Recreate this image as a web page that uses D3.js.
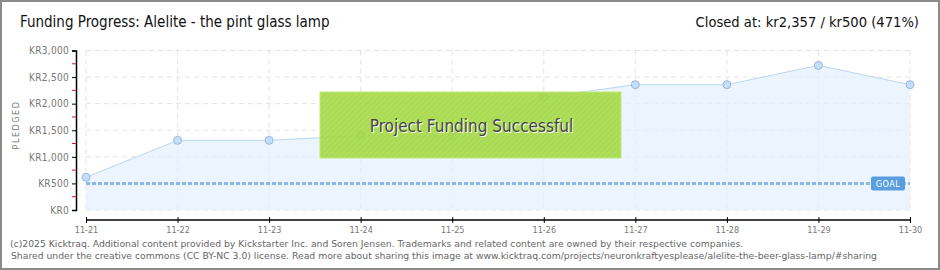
<!DOCTYPE html>
<html>
<head>
<meta charset="utf-8">
<script src="https://cdn.jsdelivr.net/npm/d3@7"></script>
<style>
  body { margin: 0; background: #fff; }
  svg { display: block; }
</style>
</head>
<body>
<svg id="chart" width="940" height="270"></svg>
<script>
// data
var dates = ["11-21", "11-22", "11-23", "11-24", "11-25", "11-26", "11-27", "11-28", "11-29", "11-30"];
var pledged = [615, 1310, 1310, 1400, 1390, 2120, 2357, 2357, 2720, 2357];
var goal = 500;
var yTicks = [0, 500, 1000, 1500, 2000, 2500, 3000];

var svg = d3.select("#chart"),
    W = +svg.attr("width"),
    H = +svg.attr("height");

var x = d3.scalePoint().domain(dates).range([86, 910]);
var y = d3.scaleLinear().domain([0, 3000]).range([210, 50.5]);

var condensed = "'DejaVu Sans Condensed', 'DejaVu Sans', sans-serif";

// frame
svg.append("rect")
    .attr("x", 1).attr("y", 1).attr("width", W - 2).attr("height", H - 2)
    .attr("fill", "#fff").attr("stroke", "#8a8a8a").attr("stroke-width", 2);

// titles
svg.append("text")
    .attr("x", 20).attr("y", 27)
    .attr("font-family", condensed).attr("font-size", 15).attr("fill", "#111")
    .text("Funding Progress: Alelite - the pint glass lamp");

svg.append("text")
    .attr("x", 919).attr("y", 27).attr("text-anchor", "end")
    .attr("font-family", condensed).attr("font-size", 14.6).attr("fill", "#111")
    .text("Closed at:  kr2,357  /  kr500 (471%)");

// grid
var grid = svg.append("g").attr("stroke", "#e2e2e2").attr("stroke-dasharray", "5,4");
grid.selectAll(".h").data(yTicks).enter().append("line")
    .attr("x1", 86).attr("x2", 910)
    .attr("y1", function(d) { return y(d); }).attr("y2", function(d) { return y(d); });
grid.selectAll(".v").data(dates).enter().append("line")
    .attr("x1", function(d) { return x(d); }).attr("x2", function(d) { return x(d); })
    .attr("y1", y(3000)).attr("y2", y(0));

// area and line
var series = dates.map(function(d, i) { return { date: d, value: pledged[i] }; });

var area = d3.area()
    .x(function(d) { return x(d.date); })
    .y0(y(0))
    .y1(function(d) { return y(d.value); });

var line = d3.line()
    .x(function(d) { return x(d.date); })
    .y(function(d) { return y(d.value); });

svg.append("path").datum(series).attr("d", area)
    .attr("fill", "#e6f0fc").attr("fill-opacity", 0.75);

svg.append("path").datum(series).attr("d", line)
    .attr("fill", "none").attr("stroke", "#b9d7f4").attr("stroke-width", 1);

// goal line
svg.append("line")
    .attr("x1", 86).attr("x2", 910).attr("y1", y(goal)).attr("y2", y(goal))
    .attr("stroke", "#8cb8e6").attr("stroke-width", 3).attr("stroke-dasharray", "4,2");

svg.selectAll(".pt").data(series).enter().append("circle")
    .attr("cx", function(d) { return x(d.date); })
    .attr("cy", function(d) { return y(d.value); })
    .attr("r", 4)
    .attr("fill", "#c4ddf8").attr("stroke", "#98b9dc").attr("stroke-width", 1);

// goal tag
var tag = svg.append("g").attr("transform", "translate(871," + (y(goal) - 7) + ")");
tag.append("rect").attr("width", 34).attr("height", 14).attr("rx", 2)
    .attr("fill", "#5b9ee0");
tag.append("text").attr("x", 17).attr("y", 10.5).attr("text-anchor", "middle")
    .attr("font-family", condensed).attr("font-size", 9).attr("fill", "#fff")
    .attr("letter-spacing", 0.5)
    .text("GOAL");

// y axis
var yAxis = d3.axisLeft(y).tickValues(yTicks).tickSize(4)
    .tickFormat(function(d) { return "KR" + d3.format(",")(d); });
var ya = svg.append("g").attr("transform", "translate(76,0)").call(yAxis);
ya.select(".domain").attr("stroke", "#000").attr("stroke-width", 1.5);
ya.selectAll(".tick line").attr("stroke", "#000");
ya.selectAll(".tick text")
    .attr("font-family", condensed).attr("font-size", 10).attr("fill", "#777")
    .attr("letter-spacing", 0.3);

// red minor ticks
var minor = d3.range(250, 3000, 500);
svg.append("g").selectAll("line").data(minor).enter().append("line")
    .attr("x1", 72).attr("x2", 76)
    .attr("y1", function(d) { return y(d); }).attr("y2", function(d) { return y(d); })
    .attr("stroke", "#e01010");

svg.append("text")
    .attr("transform", "translate(19,125) rotate(-90)")
    .attr("text-anchor", "middle")
    .attr("font-family", condensed).attr("font-size", 9).attr("fill", "#777")
    .attr("letter-spacing", 1.5)
    .text("PLEDGED");

// x axis
var xAxis = d3.axisBottom(x).tickSize(4).tickSizeOuter(0);
var xa = svg.append("g").attr("transform", "translate(0,220)").call(xAxis);
xa.select(".domain").attr("stroke", "#000").attr("stroke-width", 1.5).attr("d", "M86,0H910");
xa.selectAll(".tick line").attr("y1", -3).attr("y2", 3).attr("stroke", "#000");
xa.selectAll(".tick text").attr("y", 7)
    .attr("font-family", condensed).attr("font-size", 9).attr("fill", "#777");

// success banner
var defs = svg.append("defs");
var pat = defs.append("pattern").attr("id", "stripes")
    .attr("width", 4).attr("height", 4).attr("patternUnits", "userSpaceOnUse")
    .attr("patternTransform", "rotate(45)");
pat.append("rect").attr("width", 4).attr("height", 4).attr("fill", "#a6db47");
pat.append("line").attr("x1", 0).attr("x2", 0).attr("y1", 0).attr("y2", 4)
    .attr("stroke", "#9dd23f").attr("stroke-width", 1.5);

svg.append("rect")
    .attr("x", 320).attr("y", 92).attr("width", 301).attr("height", 66)
    .attr("fill", "url(#stripes)").attr("fill-opacity", 0.9)
    .attr("stroke", "#bfe87a").attr("stroke-width", 1);

svg.append("text")
    .attr("x", 471.5).attr("y", 132).attr("text-anchor", "middle")
    .attr("font-family", condensed).attr("font-size", 17).attr("fill", "#fff")
    .attr("transform", "translate(1,1)")
    .text("Project Funding Successful");
svg.append("text")
    .attr("x", 471.5).attr("y", 132).attr("text-anchor", "middle")
    .attr("font-family", condensed).attr("font-size", 17).attr("fill", "#444")
    .text("Project Funding Successful");

// footer
var foot = svg.append("g")
    .attr("font-family", "Verdana, 'DejaVu Sans', sans-serif").attr("font-size", 9.25).attr("fill", "#666");
foot.append("text").attr("x", 10).attr("y", 247)
    .text("(c)2025 Kicktraq. Additional content provided by Kickstarter Inc. and Soren Jensen. Trademarks and related content are owned by their respective companies.");
foot.append("text").attr("x", 11).attr("y", 259)
    .text("Shared under the creative commons (CC BY-NC 3.0) license. Read more about sharing this image at www.kicktraq.com/projects/neuronkraftyesplease/alelite-the-beer-glass-lamp/#sharing");
</script>
</body>
</html>
